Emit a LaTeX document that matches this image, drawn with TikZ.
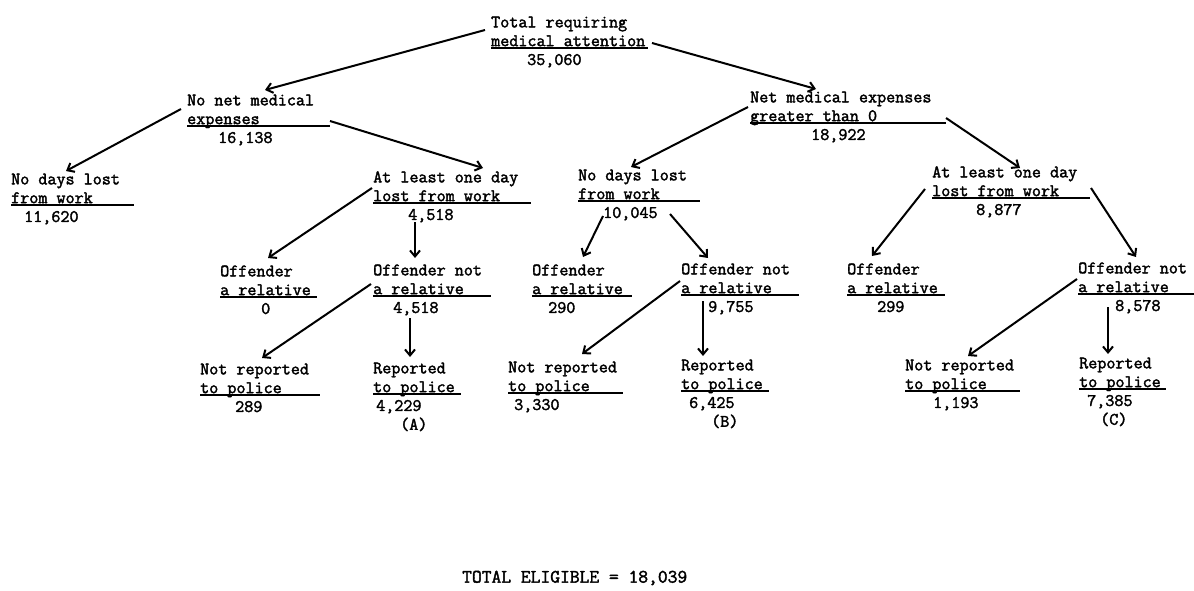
\documentclass[tikz,border=0pt]{standalone}
\usepackage{fontspec}
\newfontfamily\tw{Latin Modern Mono}[FakeBold=2]
\usetikzlibrary{arrows.meta,calc}
\newcommand{\ul}[2]{\rlap{\rule[-2.5pt]{#1pt}{1.2pt}}#2}
\newcommand{\num}[2]{\hspace*{#1pt}#2}
\tikzset{
  blk/.style={anchor=north west, inner sep=0pt, align=left,
    font=\tw\fontsize{17.6}{18.8}\selectfont},
  arr/.style={line width=2pt, -{Straight Barb[length=6pt,width=10pt]}},
}
\begin{document}
\begin{tikzpicture}[x=1pt,y=-1pt]
\useasboundingbox[fill=white] (0,0) rectangle (1194,591);
% level 1
\node[blk] (tot) at (491,14) {\strut Total requiring\\ \ul{157}{medical attention}\\ \num{36}{35,060}};
% level 2
\node[blk] (nonet) at (187,92) {\strut No net medical\\ \ul{143}{expenses}\\ \num{31}{16,138}};
\node[blk] (netgt) at (750,89) {\strut Net medical expenses\\ \ul{196}{greater than 0}\\ \num{61}{18,922}};
% level 3
\node[blk] (nd1) at (11,171) {\strut No days lost\\ \ul{123}{from work}\\ \num{13}{11,620}};
\node[blk] (al1) at (373,169) {\strut At least one day\\ \ul{158}{lost from work}\\ \num{35}{4,518}};
\node[blk] (nd2) at (578,167) {\strut No days lost\\ \ul{122}{from work}\\ \num{25}{10,045}};
\node[blk] (al2) at (932,164) {\strut At least one day\\ \ul{158}{lost from work}\\ \num{44}{8,877}};
% level 4
\node[blk] (or1) at (220,263) {\strut Offender\\ \ul{97}{a relative}\\ \num{41}{0}};
\node[blk] (onr1) at (373,262) {\strut Offender not\\ \ul{118}{a relative}\\ \num{20}{4,518}};
\node[blk] (or2) at (532,262) {\strut Offender\\ \ul{100}{a relative}\\ \num{16}{290}};
\node[blk] (onr2) at (681,261) {\strut Offender not\\ \ul{118}{a relative}\\ \num{27}{9,755}};
\node[blk] (or3) at (847,261) {\strut Offender\\ \ul{98}{a relative}\\ \num{30}{299}};
\node[blk] (onr3) at (1078,260) {\strut Offender not\\ \ul{116}{a relative}\\ \num{37}{8,578}};
% level 5
\node[blk] (nr1) at (200,361) {\strut Not reported\\ \ul{120}{to police}\\ \num{35}{289}};
\node[blk] (r1) at (373,360) {\strut Reported\\ \ul{88}{to police}\\ \num{3}{4,229}\\ \num{27}{(A)}};
\node[blk] (nr2) at (508,359) {\strut Not reported\\ \ul{115}{to police}\\ \num{6}{3,330}};
\node[blk] (r2) at (681,357) {\strut Reported\\ \ul{88}{to police}\\ \num{8}{6,425}\\ \num{30}{(B)}};
\node[blk] (nr3) at (905,357) {\strut Not reported\\ \ul{115}{to police}\\ \num{28}{1,193}};
\node[blk] (r3) at (1079,355) {\strut Reported\\ \ul{87}{to police}\\ \num{8}{7,385}\\ \num{21}{(C)}};
% total
\node[blk, anchor=west, font=\tw\fontsize{19}{20}\selectfont] (tel) at (462,578) {TOTAL ELIGIBLE = 18,039};
% arrows
\draw[arr] ($(tot.north west)+(-6,16)$) -- ($(nonet.north west)+(78,-2)$);
\draw[arr] ($(tot.north west)+(161,29)$) -- ($(netgt.north west)+(66,0)$);
\draw[arr] ($(nonet.north west)+(-6,17)$) -- ($(nd1.north west)+(55,0)$);
\draw[arr] ($(nonet.north west)+(143,29)$) -- ($(al1.north west)+(110,-1)$);
\draw[arr] ($(netgt.north west)+(-2,18)$) -- ($(nd2.north west)+(53,0)$);
\draw[arr] ($(netgt.north west)+(196,29)$) -- ($(al2.north west)+(88,4)$);
\draw[arr] ($(al1.north west)+(-1,19)$) -- ($(or1.north west)+(48,-5)$);
\draw[arr] ($(al1.north west)+(42,53)$) -- ($(onr1.north west)+(42,-4)$);
\draw[arr] ($(nd2.north west)+(25,49)$) -- ($(or2.north west)+(51,-5)$);
\draw[arr] ($(nd2.north west)+(92,47)$) -- ($(onr2.north west)+(27,-3)$);
\draw[arr] ($(onr1.north west)+(-2,22)$) -- ($(nr1.north west)+(62,-3)$);
\draw[arr] ($(onr1.north west)+(37,56)$) -- ($(r1.north west)+(37,-3)$);
\draw[arr] ($(onr2.north west)+(-1,20)$) -- ($(nr2.north west)+(74,-5)$);
\draw[arr] ($(onr2.north west)+(22,40)$) -- ($(r2.north west)+(22,-1)$);
\draw[arr] ($(al2.north west)+(-7,25)$) -- ($(or3.north west)+(25,-5)$);
\draw[arr] ($(al2.north west)+(159,24)$) -- ($(onr3.north west)+(58,-3)$);
\draw[arr] ($(onr3.north west)+(-1,19)$) -- ($(nr3.north west)+(63,-1)$);
\draw[arr] ($(onr3.north west)+(30,47)$) -- ($(r3.north west)+(29,-1)$);
\end{tikzpicture}
\end{document}
